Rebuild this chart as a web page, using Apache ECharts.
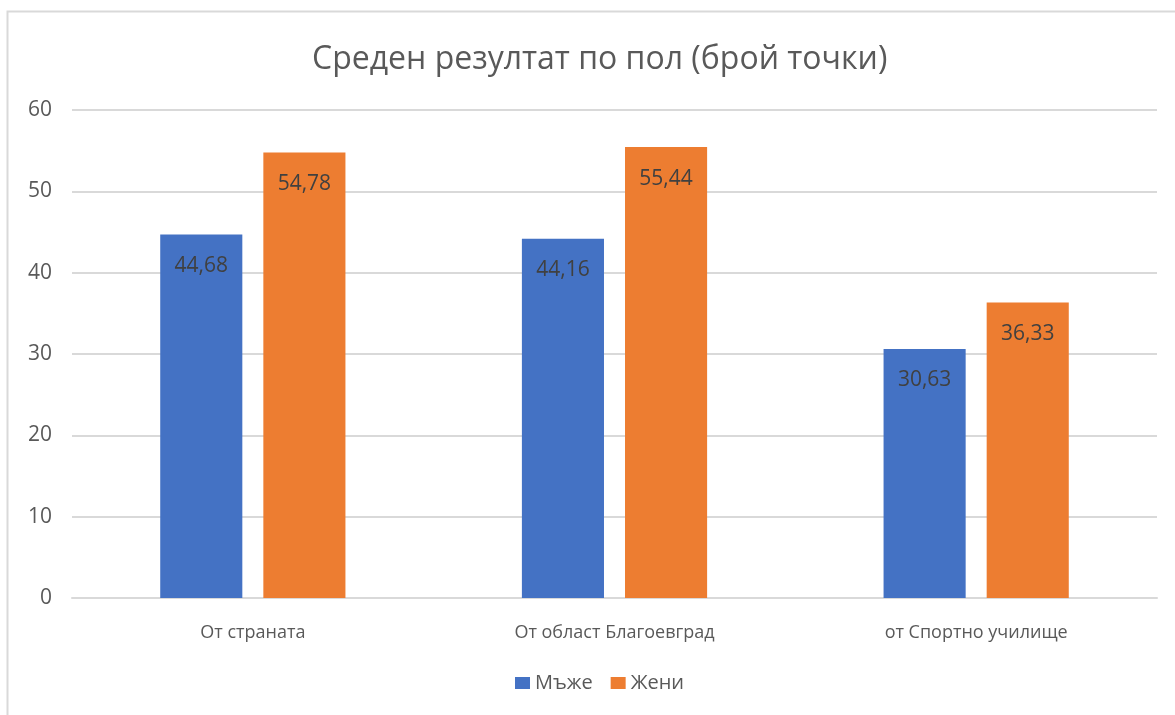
<!DOCTYPE html>
<html>
<head>
<meta charset="utf-8">
<script src="https://cdn.jsdelivr.net/npm/echarts@6/dist/echarts.min.js"></script>
<style>
  html, body { margin: 0; padding: 0; background: #fff; }
  #chart { width: 1175px; height: 715px; }
</style>
</head>
<body>
<div id="chart"></div>
<script>
const categories = ['От страната', 'От област Благоевград', 'от Спортно училище']
const men = [44.68, 44.16, 30.63]
const women = [54.78, 55.44, 36.33]
const yTicks = { min: 0, max: 60, interval: 10 }

const font = '"Open Sans", "Noto Sans", sans-serif'
const myechar = echarts.init(document.getElementById('chart'))

const labelOpt = {
    show: true,
    position: 'insideTop',
    distance: 21,
    color: '#404040',
    fontSize: 21,
    fontFamily: font,
    formatter: p => p.value.toFixed(2).replace('.', ',')
}

let option = {
    animation: false,
    textStyle: { fontFamily: font },
    graphic: [{
        type: 'rect',
        shape: { x: 7.5, y: 11.5, width: 1300, height: 900 },
        style: { fill: 'none', stroke: '#d9d9d9', lineWidth: 2 },
        silent: true
    }],
    title: {
        text: 'Среден резултат по пол (брой точки)',
        left: 307,
        top: 39,
        textStyle: { color: '#595959', fontSize: 32, fontWeight: 'normal', fontFamily: font }
    },
    legend: {
        bottom: 17,
        left: 510,
        itemWidth: 15,
        itemHeight: 12,
        itemGap: 18,
        icon: 'rect',
        textStyle: { color: '#595959', fontSize: 20, fontFamily: font }
    },
    grid: { left: 72, right: 18, top: 110, bottom: 117, containLabel: false },
    xAxis: {
        type: 'category',
        data: categories,
        axisLine: { lineStyle: { color: '#d9d9d9', width: 2 } },
        axisTick: { show: false },
        axisLabel: { color: '#595959', fontSize: 18, margin: 26, fontFamily: font }
    },
    yAxis: {
        type: 'value',
        min: yTicks.min,
        max: yTicks.max,
        interval: yTicks.interval,
        axisLine: { show: false },
        axisTick: { show: false },
        axisLabel: { color: '#595959', fontSize: 21, margin: 20, fontFamily: font },
        splitLine: { lineStyle: { color: '#d9d9d9', width: 2 } }
    },
    series: [
        {
            name: 'Мъже',
            type: 'bar',
            data: men,
            barWidth: '22.7%',
            barGap: '25.6%',
            itemStyle: { color: '#4472C4' },
            label: labelOpt
        },
        {
            name: 'Жени',
            type: 'bar',
            data: women,
            barWidth: '22.7%',
            itemStyle: { color: '#ED7D31' },
            label: labelOpt
        }
    ]
}
myechar.setOption(option)
</script>
</body>
</html>
